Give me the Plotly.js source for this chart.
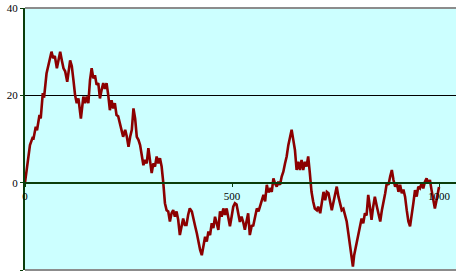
<!DOCTYPE html>
<html>
<head>
<meta charset="utf-8">
<script src="https://cdn.plot.ly/plotly-3.0.1.min.js"></script>
<style>html,body{margin:0;padding:0;background:#fff;}#chart{width:456px;height:275px;}</style>
</head>
<body>
<div id="chart"></div>
<script>
// Random walk (step, value)
var steps = [0,6,12,19,20,26,29,35,38,43,46,52,56,59,64,68,72,77,81,85,89,93,97,102,109,113,117,121,125,129,135,141,145,149,153,157,161,165,169,173,177,181,185,189,193,197,201,205,209,213,217,221,225,229,233,237,242,246,250,254,258,262,266,270,274,278,282,286,290,294,298,302,306,310,314,318,322,326,330,334,338,342,346,350,354,358,362,366,370,374,378,382,386,390,394,398,403,406,411,415,419,423,427,431,435,439,443,447,451,455,459,463,467,471,475,479,483,487,491,495,499,503,507,511,519,523,527,531,535,539,543,548,551,556,560,564,568,572,576,580,584,588,592,596,600,604,608,612,616,620,624,628,632,636,640,644,648,652,656,660,664,668,672,676,680,684,688,692,696,700,705,708,713,717,721,725,729,733,737,741,745,749,753,757,761,765,769,773,777,781,785,789,792,795,801,805,809,813,817,821,825,829,833,837,841,845,850,853,858,862,866,870,874,878,882,886,890,894,898,902,906,910,914,918,922,926,930,934,938,942,946,950,954,958,962,966,970,974,978,982,986,990,994,998,1000];
var walk = [0,4.8,8.6,10.5,9.8,12.8,12,15.5,14.7,20.5,19.5,25,26.5,28,30,28.5,29,26.2,28,30,28,26.2,25.5,23.1,28,26.7,23.5,20,18.2,19.3,14.7,19.7,18.2,19.7,18.2,23.5,26.2,23.9,24.6,22.4,22.8,19.3,21.2,22.8,21.5,22.8,20.1,16.6,18.9,17,18.2,15.5,15.2,13.2,12.1,10.5,12.1,10.5,8.2,10.5,12.1,17,14.7,10.5,9.8,8.6,6.7,4.0,5.2,4.4,7.9,5.2,2.2,4.4,3.7,6.0,4.4,5.6,3.7,0,-4.7,-6.3,-6.6,-8.9,-7,-6.3,-7.8,-6.6,-8.5,-12,-10,-8.2,-9.7,-9.7,-7.4,-5.9,-6.6,-8.2,-10,-11.6,-13.9,-15.4,-16.6,-14.7,-12.4,-13.5,-11.2,-12,-9.3,-10.4,-7.8,-9.3,-10.8,-6.6,-7.8,-5.9,-7.4,-5.9,-8.5,-10,-7.8,-5.5,-4.7,-5,-9,-7.8,-9,-10.8,-8.9,-7,-12,-9.7,-10,-7.8,-5.9,-6.6,-5.1,-4,-2.8,-4.3,-0.5,-2.2,-1.5,-2.1,1.0,-0.2,-0.9,0.2,-0.5,1.4,2.5,4.4,6.0,8.6,10.2,12.1,9.8,7.5,2.9,4.8,2.9,5.2,2.9,4.8,3.7,6.0,2.2,-2.1,-4.3,-5.9,-6.3,-5.5,-7,-4,-2.1,-4,-2.1,-2.4,-4.3,-6.3,-4.5,-3,-0.9,-3.2,-4.7,-6.3,-6,-7.8,-8.9,-11.6,-14.3,-17.3,-19.2,-16.6,-13.9,-12.4,-10.8,-8.2,-9.3,-7,-7.5,-2.8,-5.5,-8.5,-5.5,-3.2,-5.5,-7,-8.9,-6.3,-4.7,-2.4,0,-0.5,1.4,2.9,0.6,-0.9,-0.1,-2.1,-0.5,-2.4,-1.6,-3.2,-6.3,-8.9,-10,-7.8,-4.7,-1.7,-3.2,-0.9,-1.3,-0.1,-1.3,0.2,1.0,-0.2,0.6,-1.7,-4,-5.9,-4,-1.7,-1];
var xTicks = [0, 500, 1000];
var xTickText = ['0', '500', '1000'];
var yTicks = [-20, 0, 20, 40];
var yTickText = ['-20', '0', '20', '40'];

var axisGreen = '#0b3d0b';
var fontSerif = {family: 'Liberation Serif, Times New Roman, serif', size: 11, color: '#000'};

var trace = {
  x: steps, y: walk, type: 'scatter', mode: 'lines',
  line: {color: '#8B0000', width: 2.6},
  hoverinfo: 'skip'
};

var layout = {
  width: 456, height: 275,
  margin: {l: 25, r: 0, t: 8, b: 5},
  paper_bgcolor: '#ffffff',
  plot_bgcolor: '#CCFFFF',
  showlegend: false,
  xaxis: {
    range: [0, 1041], anchor: 'free', position: 1/3,
    showline: true, linecolor: axisGreen, linewidth: 2,
    showgrid: false, zeroline: false,
    ticks: 'outside', ticklen: 3, tickwidth: 1, tickcolor: axisGreen,
    tickvals: xTicks, ticktext: xTickText, tickfont: fontSerif
  },
  yaxis: {
    range: [-20, 40],
    showline: true, linecolor: axisGreen, linewidth: 2,
    showgrid: true, gridcolor: '#000000', gridwidth: 1,
    zeroline: false,
    ticks: 'outside', ticklen: 3, tickwidth: 1, tickcolor: axisGreen,
    tickvals: yTicks, ticktext: yTickText, tickfont: fontSerif
  },
  shapes: [
    {type: 'line', xref: 'paper', yref: 'paper', x0: 0, x1: 1, y0: 1, y1: 1, line: {color: '#8c8c8c', width: 2}},
    {type: 'line', xref: 'paper', yref: 'paper', x0: 0, x1: 1, y0: 0, y1: 0, line: {color: '#8c8c8c', width: 2}}
  ]
};

Plotly.newPlot('chart', [trace], layout, {staticPlot: true, displayModeBar: false});
</script>
</body>
</html>
